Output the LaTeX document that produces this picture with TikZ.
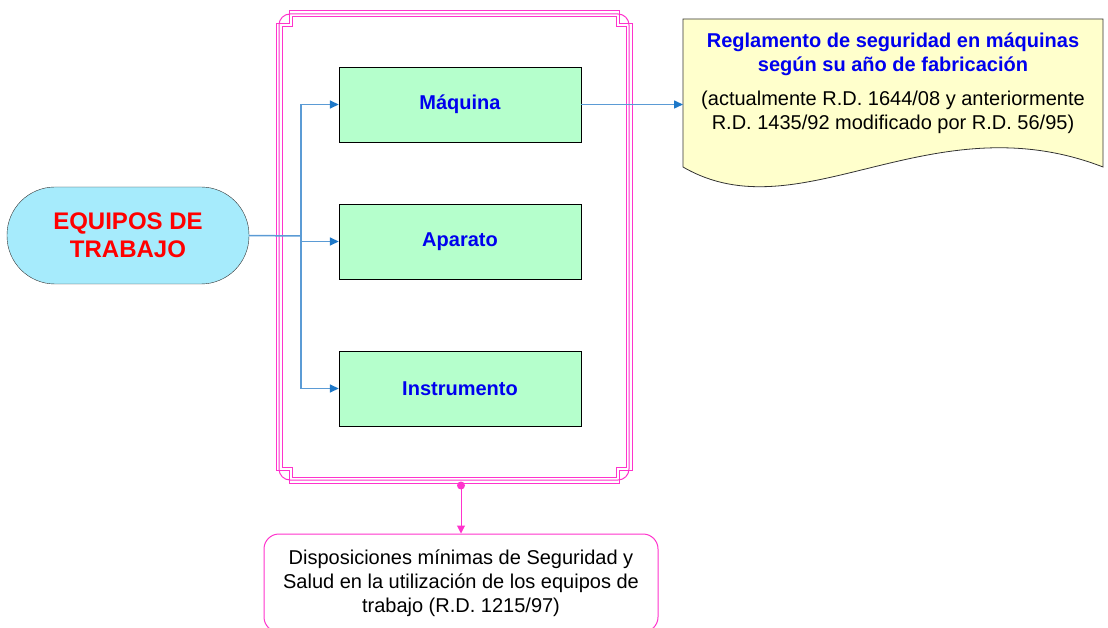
\documentclass[tikz,border=0pt]{standalone}
\usepackage{fontspec}
\setmainfont{Liberation Sans}
\usetikzlibrary{arrows.meta}
\definecolor{pinkline}{RGB}{255,51,204}
\definecolor{cyanfill}{RGB}{166,235,252}
\definecolor{greenfill}{RGB}{181,255,204}
\definecolor{yellowfill}{RGB}{255,255,204}
\definecolor{lineblue}{RGB}{91,155,213}
\definecolor{tipblue}{RGB}{30,120,200}
\definecolor{textblue}{RGB}{0,0,238}

\begin{document}
\begin{tikzpicture}[x=1pt,y=-1pt,
    equipo/.style={draw=black!80,fill=cyanfill,rounded corners=48pt,minimum width=242pt,minimum height=97pt,align=center,text=red,font=\fontsize{24}{28}\selectfont\bfseries},
    tipo/.style={draw=black,fill=greenfill,minimum width=242pt,minimum height=75pt,text=textblue,font=\fontsize{20}{24}\selectfont\bfseries},
    pinkframe/.style={pinkline,line width=1pt},
    blueline/.style={lineblue,line width=1.5pt},
    bluearrow/.style={blueline,-{Triangle[length=9pt,width=8pt,color=tipblue]}},
    texto/.style={align=center,font=\fontsize{20}{24}\selectfont}]
        \useasboundingbox (0,0) rectangle (1108,628);
        % triple frame
        \draw[pinkframe] (276,24) -- (289,24) -- (289,11) -- (619,11) -- (619,24) -- (632,24) -- (632,470) -- (619,470) -- (619,483) -- (289,483) -- (289,470) -- (276,470) -- cycle;
        \draw[pinkframe,rounded corners=11pt] (279,14) rectangle (629,480);
        \draw[pinkframe] (282,27) -- (292,27) -- (292,17) -- (616,17) -- (616,27) -- (626,27) -- (626,467) -- (616,467) -- (616,477) -- (292,477) -- (292,467) -- (282,467) -- cycle;
        % document shape
        \path[draw=black!80,fill=yellowfill,line width=0.8pt] (683,19) -- (1103,19) -- (1103,167) .. controls (930,100) and (800,235) .. (683,167) -- cycle;
        \node[texto,text=textblue,font=\fontsize{20}{24}\selectfont\bfseries] (reglt) at (893,54) {Reglamento de seguridad en máquinas\\según su año de fabricación};
        \node[texto] (reglb) at (893,112) {(actualmente R.D. 1644/08 y anteriormente\\R.D. 1435/92 modificado por R.D. 56/95)};
        \coordinate (docin) at (683,104.5);

        \node[equipo] (eq) at (128,235.5) {EQUIPOS DE\\TRABAJO};
        \node[tipo] (maq)  at (460,104.5) {Máquina};
        \node[tipo] (apa)  at (460,241.5) {Aparato};
        \node[tipo] (inst) at (460,388.5) {Instrumento};
        \node[texto,draw=pinkline,line width=1pt,rounded corners=15pt,minimum width=394pt,minimum height=98pt] (disp) at (461,583) {Disposiciones mínimas de Seguridad y\\Salud en la utilización de los equipos de\\trabajo (R.D. 1215/97)};

        \coordinate (trunk) at (301,236);
        \coordinate (fb) at (461,485.5);
        \draw[blueline]   (eq.east) -- (trunk);
        \draw[bluearrow]  (trunk) |- (maq.west);
        \draw[bluearrow]  (trunk) |- (apa.west);
        \draw[bluearrow]  (trunk) |- (inst.west);
        \draw[bluearrow]  (maq.east) -- (docin);
        \fill[pinkline] (fb) circle (4pt);
        \draw[pinkline,line width=1pt,-{Triangle[length=8pt,width=8pt]}] (fb) -- (disp.north);
    \end{tikzpicture}
\end{document}
